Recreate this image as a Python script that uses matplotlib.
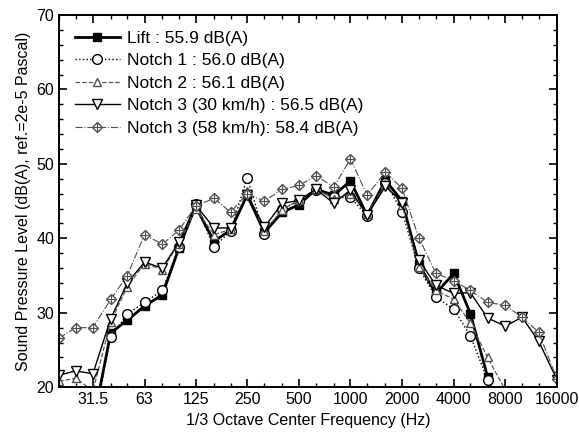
import numpy as np
import matplotlib
matplotlib.use("Agg")
import matplotlib.pyplot as plt
from matplotlib.ticker import FixedLocator, NullFormatter, MultipleLocator
from matplotlib.legend_handler import HandlerTuple

plt.rcParams["font.family"] = ["Liberation Sans", "DejaVu Sans"]

# 1/3 octave band centre frequencies (Hz)
freqs = [20, 25, 31.5, 40, 50, 63, 80, 100, 125, 160, 200, 250, 315, 400, 500,
         630, 800, 1000, 1250, 1600, 2000, 2500, 3150, 4000, 5000, 6300, 8000,
         10000, 12500, 16000]
nan = np.nan

lift = [nan, nan, 15.0, 27.3, 29.0, 30.9, 32.4, 38.7, 44.3, 39.6, 41.1, 45.8, 40.8, 43.5, 44.5,
        46.6, 45.8, 47.7, 43.1, 47.8, 45.0, 36.5, 32.6, 35.3, 29.9, 21.4, 13.0, nan, nan, nan]
notch1 = [nan, nan, 14.5, 26.8, 29.8, 31.4, 33.0, 38.8, 44.6, 38.8, 41.0, 48.1, 40.6, 44.0, 45.0,
          46.5, 45.5, 45.5, 43.0, 47.5, 43.6, 36.0, 32.1, 30.5, 26.9, 21.0, 14.0, nan, nan, nan]
notch2 = [20.8, 21.2, 19.5, 28.8, 33.5, 36.6, 35.8, 39.3, 44.0, 40.5, 41.2, 46.3, 41.0, 43.8, 45.2,
          46.6, 45.3, 46.0, 43.3, 47.3, 44.5, 36.1, 33.0, 31.8, 28.6, 24.0, 19.6, 13.0, nan, nan]
notch3_30 = [21.6, 22.2, 21.8, 29.2, 34.0, 36.8, 36.0, 39.5, 44.5, 41.4, 41.4, 45.8, 41.5, 44.7, 45.1,
             46.6, 44.7, 46.5, 43.1, 47.0, 44.8, 37.1, 33.7, 32.6, 32.7, 29.3, 28.2, 29.4, 26.2, 21.0]
notch3_58 = [26.6, 28.0, 28.0, 31.8, 35.0, 40.5, 39.2, 41.1, 44.3, 45.4, 43.5, 46.0, 45.0, 46.6, 47.1,
             48.4, 46.9, 50.7, 45.8, 48.9, 46.7, 40.1, 35.3, 34.3, 33.0, 31.4, 31.0, 29.4, 27.4, 21.1]

labels = ["Lift : 55.9 dB(A)", "Notch 1 : 56.0 dB(A)", "Notch 2 : 56.1 dB(A)",
          "Notch 3 (30 km/h) : 56.5 dB(A)", "Notch 3 (58 km/h): 58.4 dB(A)"]
major_ticks = [31.5, 63, 125, 250, 500, 1000, 2000, 4000, 8000, 16000]
major_labels = ["31.5", "63", "125", "250", "500", "1000", "2000", "4000", "8000", "16000"]

fig = plt.figure(figsize=(5.79, 4.43), dpi=100)
ax = fig.add_axes([0.102, 0.126, 0.860, 0.840])

ms = 6
h1, = ax.plot(freqs, lift, "-", color="black", lw=2.0, marker="s", ms=ms - 0.5,
              mfc="black", mec="black")
h2, = ax.plot(freqs, notch1, ":", color="black", lw=1.0, marker="o", ms=ms + 1,
              mfc="white", mec="black")
h3, = ax.plot(freqs, notch2, "--", color="0.35", lw=0.9, marker="^", ms=ms,
              mfc="white", mec="0.3")
h4, = ax.plot(freqs, notch3_30, "-", color="black", lw=1.0, marker="v", ms=ms + 1,
              mfc="white", mec="black")
h5a, = ax.plot(freqs, notch3_58, "-.", color="0.3", lw=0.8, marker="D", ms=ms - 0.5,
               mfc="white", mec="0.3")
h5b, = ax.plot(freqs, notch3_58, ls="none", marker="+", ms=ms - 0.5, mec="0.3", mew=0.8)

ax.set_xscale("log")
ax.set_xlim(20, 16000)
ax.set_ylim(20, 70)
ax.xaxis.set_major_locator(FixedLocator(major_ticks))
ax.set_xticklabels(major_labels)
ax.xaxis.set_minor_locator(FixedLocator([f for f in freqs if f not in major_ticks]))
ax.xaxis.set_minor_formatter(NullFormatter())
ax.yaxis.set_major_locator(MultipleLocator(10))
ax.yaxis.set_minor_locator(MultipleLocator(2))
ax.tick_params(which="both", direction="in", top=True, right=True, labelsize=11.5)
ax.tick_params(which="major", length=6, width=1.2)
ax.tick_params(which="minor", length=3, width=1.0)
for sp in ax.spines.values():
    sp.set_linewidth(1.4)

ax.set_xlabel("1/3 Octave Center Frequency (Hz)", fontsize=11.5)
ax.set_ylabel("Sound Pressure Level (dB(A), ref.=2e-5 Pascal)", fontsize=11.5)

ax.legend([h1, h2, h3, h4, (h5a, h5b)], labels, loc="upper left", frameon=False,
          fontsize=12.5, handlelength=2.6, handletextpad=0.4, labelspacing=0.42,
          borderaxespad=0.5, handler_map={tuple: HandlerTuple(ndivide=1)})

fig.savefig("out.png", dpi=100)
